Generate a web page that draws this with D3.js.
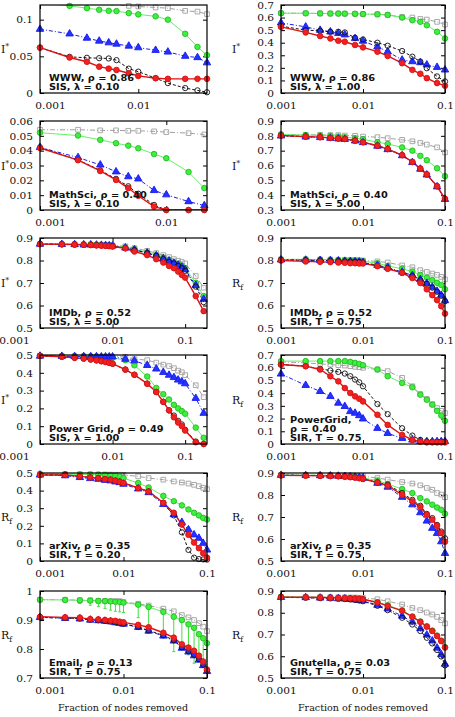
<!DOCTYPE html>
<html>
<head>
<meta charset="utf-8">
<script src="https://cdn.jsdelivr.net/npm/d3@7"></script>
<style>
  body { margin: 0; background: #fff; }
  text { fill: #111; }
</style>
</head>
<body>
<svg id="chart" width="455" height="717"></svg>
<script>
// x grids (fraction of nodes removed)
var g10 = [0.001, 0.002, 0.003, 0.004, 0.005, 0.006, 0.008, 0.01, 0.015, 0.02];
var g13 = [0.001, 0.002, 0.003, 0.004, 0.005, 0.006, 0.008, 0.01, 0.015, 0.02, 0.03, 0.04, 0.05];
var g16 = [0.001, 0.002, 0.003, 0.004, 0.005, 0.006, 0.008, 0.01, 0.015, 0.02, 0.03, 0.04, 0.05, 0.06, 0.08, 0.1];
var g20 = [0.001, 0.002, 0.003, 0.004, 0.005, 0.006, 0.007, 0.008, 0.009, 0.01, 0.015, 0.02, 0.03, 0.04, 0.05, 0.06, 0.07, 0.08, 0.09, 0.1];
var g22 = g20.concat([0.14, 0.18]);

// WWW, SIS lambda 0.10
var wwwA_gray  = [0.122, 0.1215, 0.121, 0.1205, 0.1202, 0.1202, 0.1188, 0.118, 0.1166, 0.1157, 0.112, 0.111, 0.1076];
var wwwA_green = [0.123, 0.1188, 0.1157, 0.1135, 0.1121, 0.1117, 0.109, 0.1072, 0.1045, 0.1, 0.0807, 0.0628, 0.0516];
var wwwA_blue  = [0.087, 0.0807, 0.0749, 0.0709, 0.0686, 0.0668, 0.0641, 0.0619, 0.0583, 0.056, 0.0502, 0.0484, 0.0413];
var wwwA_black = [0.0619, 0.0493, 0.048, 0.0475, 0.0471, 0.0448, 0.0332, 0.0291, 0.0202, 0.0135, 0.0067, 0.0036, 0.001];
var wwwA_red   = [0.0619, 0.0484, 0.0426, 0.0359, 0.0332, 0.0314, 0.0269, 0.0233, 0.0202, 0.0193, 0.0193, 0.0193, 0.0193];

// WWW, SIS lambda 1.00
var wwwB_gray  = [0.635, 0.634, 0.633, 0.632, 0.632, 0.631, 0.63, 0.628, 0.626, 0.621, 0.605, 0.6, 0.589, 0.584, 0.566, 0.545];
var wwwB_green = [0.635, 0.634, 0.633, 0.632, 0.632, 0.631, 0.63, 0.628, 0.626, 0.621, 0.6, 0.579, 0.566, 0.539, 0.487, 0.434];
var wwwB_blue  = [0.558, 0.526, 0.5, 0.487, 0.474, 0.463, 0.434, 0.413, 0.368, 0.329, 0.263, 0.25, 0.242, 0.224, 0.205, 0.184];
var wwwB_black = [0.532, 0.5, 0.495, 0.487, 0.487, 0.482, 0.439, 0.426, 0.4, 0.376, 0.334, 0.289, 0.25, 0.197, 0.132, 0.092];
var wwwB_red   = [0.526, 0.482, 0.453, 0.434, 0.416, 0.408, 0.382, 0.363, 0.329, 0.295, 0.237, 0.184, 0.153, 0.118, 0.079, 0.058];

// MathSci, SIS lambda 0.10
var msA_gray  = [0.0541, 0.0541, 0.0537, 0.0537, 0.0534, 0.0534, 0.053, 0.0525, 0.0518, 0.0509];
var msA_green = [0.0521, 0.0502, 0.0473, 0.045, 0.0434, 0.0416, 0.0377, 0.0349, 0.0256, 0.0148];
var msA_blue  = [0.0422, 0.0354, 0.0304, 0.0258, 0.0225, 0.021, 0.0132, 0.0103, 0.0057, 0.003];
var msA_black = [0.0422, 0.0338, 0.0267, 0.021, 0.016, 0.011, 0.0034, 0, 0, 0];
var msA_red   = [0.0418, 0.0336, 0.0263, 0.0203, 0.0148, 0.0096, 0.0023, 0, 0, 0];

// MathSci, SIS lambda 5.00
var msB_gray  = [0.809, 0.807, 0.807, 0.805, 0.805, 0.802, 0.8, 0.795, 0.791, 0.784, 0.773, 0.763, 0.752, 0.741, 0.722, 0.688];
var msB_green = [0.809, 0.805, 0.802, 0.8, 0.795, 0.791, 0.784, 0.777, 0.757, 0.745, 0.722, 0.7, 0.665, 0.636, 0.581, 0.528];
var msB_blue  = [0.8, 0.793, 0.789, 0.784, 0.78, 0.777, 0.766, 0.755, 0.731, 0.708, 0.667, 0.621, 0.576, 0.537, 0.457, 0.372];
var msB_black = [0.802, 0.795, 0.791, 0.786, 0.782, 0.779, 0.768, 0.757, 0.734, 0.711, 0.67, 0.624, 0.579, 0.54, 0.46, 0.375];
var msB_red   = [0.802, 0.795, 0.791, 0.786, 0.782, 0.779, 0.768, 0.757, 0.734, 0.711, 0.67, 0.624, 0.579, 0.54, 0.46, 0.375];

// IMDb, SIS lambda 5.00
var imA_gray  = [0.873, 0.872, 0.872, 0.871, 0.871, 0.87, 0.87, 0.869, 0.868, 0.867, 0.863, 0.855, 0.843, 0.833, 0.824, 0.815, 0.806, 0.799, 0.793, 0.787, 0.731, 0.679];
var imA_green = [0.873, 0.872, 0.872, 0.871, 0.871, 0.87, 0.869, 0.868, 0.867, 0.866, 0.859, 0.851, 0.836, 0.824, 0.813, 0.803, 0.791, 0.784, 0.776, 0.766, 0.701, 0.642];
var imA_blue  = [0.873, 0.872, 0.871, 0.87, 0.87, 0.869, 0.868, 0.867, 0.866, 0.865, 0.856, 0.848, 0.834, 0.822, 0.809, 0.798, 0.789, 0.78, 0.771, 0.76, 0.69, 0.628];
var imA_black = [0.873, 0.872, 0.871, 0.87, 0.869, 0.868, 0.867, 0.866, 0.865, 0.864, 0.855, 0.846, 0.833, 0.821, 0.806, 0.794, 0.787, 0.776, 0.766, 0.754, 0.684, 0.615];
var imA_red   = [0.873, 0.872, 0.871, 0.87, 0.869, 0.867, 0.866, 0.865, 0.864, 0.862, 0.854, 0.84, 0.824, 0.806, 0.791, 0.776, 0.766, 0.751, 0.736, 0.724, 0.642, 0.575];

// IMDb, SIR T 0.75
var imB_gray  = [0.805, 0.805, 0.804, 0.804, 0.803, 0.803, 0.802, 0.802, 0.801, 0.8, 0.796, 0.791, 0.778, 0.77, 0.757, 0.749, 0.742, 0.736, 0.727, 0.716];
var imB_green = [0.805, 0.805, 0.804, 0.803, 0.802, 0.801, 0.8, 0.799, 0.798, 0.797, 0.788, 0.776, 0.763, 0.751, 0.736, 0.724, 0.713, 0.701, 0.691, 0.672];
var imB_blue  = [0.803, 0.802, 0.801, 0.8, 0.799, 0.797, 0.796, 0.795, 0.794, 0.792, 0.779, 0.769, 0.749, 0.734, 0.716, 0.699, 0.682, 0.664, 0.646, 0.622];
var imB_black = [0.802, 0.801, 0.8, 0.799, 0.798, 0.796, 0.795, 0.794, 0.793, 0.791, 0.776, 0.766, 0.746, 0.731, 0.713, 0.696, 0.679, 0.661, 0.643, 0.619];
var imB_red   = [0.8, 0.796, 0.794, 0.793, 0.791, 0.79, 0.788, 0.788, 0.787, 0.787, 0.775, 0.763, 0.745, 0.722, 0.7, 0.672, 0.646, 0.624, 0.597, 0.564];

// Power Grid, SIS lambda 1.00
var pgA_gray  = [0.494, 0.494, 0.493, 0.493, 0.492, 0.492, 0.491, 0.491, 0.49, 0.49, 0.49, 0.477, 0.471, 0.457, 0.446, 0.438, 0.426, 0.412, 0.403, 0.387, 0.33, 0.263];
var pgA_green = [0.496, 0.495, 0.494, 0.493, 0.492, 0.49, 0.488, 0.486, 0.485, 0.484, 0.471, 0.442, 0.379, 0.315, 0.28, 0.25, 0.22, 0.2, 0.185, 0.17, 0.092, 0.035];
var pgA_blue  = [0.494, 0.493, 0.492, 0.492, 0.491, 0.491, 0.49, 0.49, 0.49, 0.49, 0.477, 0.468, 0.442, 0.422, 0.403, 0.387, 0.374, 0.36, 0.35, 0.339, 0.257, 0.173];
var pgA_black = [0.496, 0.49, 0.484, 0.48, 0.475, 0.47, 0.465, 0.461, 0.456, 0.451, 0.418, 0.389, 0.339, 0.292, 0.237, 0.189, 0.16, 0.13, 0.11, 0.08, 0.014, 0];
var pgA_red   = [0.496, 0.49, 0.484, 0.48, 0.475, 0.47, 0.465, 0.461, 0.456, 0.451, 0.418, 0.389, 0.339, 0.292, 0.237, 0.189, 0.15, 0.121, 0.101, 0.076, 0.01, 0];

// PowerGrid, SIR T 0.75
var pgB_gray  = [0.646, 0.638, 0.63, 0.625, 0.62, 0.617, 0.612, 0.607, 0.604, 0.599, 0.586, 0.573, 0.52, 0.454, 0.393, 0.354, 0.314, 0.282, 0.261, 0.243];
var pgB_green = [0.652, 0.652, 0.652, 0.652, 0.652, 0.652, 0.646, 0.638, 0.63, 0.62, 0.586, 0.533, 0.48, 0.446, 0.388, 0.348, 0.309, 0.261, 0.224, 0.182];
var pgB_blue  = [0.551, 0.462, 0.414, 0.375, 0.322, 0.296, 0.256, 0.243, 0.224, 0.198, 0.124, 0.084, 0.045, 0.032, 0.022, 0.02, 0.02, 0.02, 0.02, 0.02];
var pgB_black = [0.625, 0.612, 0.591, 0.578, 0.567, 0.554, 0.533, 0.507, 0.485, 0.454, 0.314, 0.235, 0.124, 0.066, 0.032, 0.02, 0.018, 0.018, 0.018, 0.018];
var pgB_red   = [0.625, 0.612, 0.586, 0.533, 0.493, 0.44, 0.401, 0.375, 0.356, 0.335, 0.23, 0.15, 0.071, 0.032, 0.018, 0.013, 0.013, 0.013, 0.013, 0.013];

// arXiv, SIR T 0.20
var axA_gray  = [0.494, 0.494, 0.493, 0.493, 0.492, 0.492, 0.491, 0.49, 0.49, 0.489, 0.481, 0.471, 0.462, 0.452, 0.446, 0.44, 0.433, 0.425, 0.416, 0.408];
var axA_green = [0.494, 0.493, 0.492, 0.491, 0.49, 0.488, 0.486, 0.483, 0.479, 0.471, 0.443, 0.418, 0.37, 0.34, 0.316, 0.293, 0.274, 0.259, 0.245, 0.236];
var axA_blue  = [0.489, 0.485, 0.475, 0.469, 0.465, 0.459, 0.456, 0.45, 0.446, 0.437, 0.41, 0.389, 0.322, 0.264, 0.22, 0.178, 0.149, 0.13, 0.101, 0.063];
var axA_black = [0.489, 0.489, 0.481, 0.475, 0.471, 0.465, 0.462, 0.456, 0.45, 0.443, 0.415, 0.395, 0.331, 0.259, 0.163, 0.063, 0.019, 0.011, 0.009, 0.008];
var axA_red   = [0.489, 0.489, 0.481, 0.475, 0.471, 0.465, 0.462, 0.456, 0.45, 0.443, 0.415, 0.395, 0.331, 0.274, 0.207, 0.149, 0.105, 0.073, 0.044, 0.019];

// arXiv, SIR T 0.75
var axB_gray  = [0.891, 0.891, 0.89, 0.89, 0.889, 0.889, 0.888, 0.887, 0.886, 0.885, 0.877, 0.87, 0.859, 0.852, 0.844, 0.832, 0.824, 0.809, 0.802, 0.79];
var axB_green = [0.891, 0.89, 0.889, 0.888, 0.887, 0.886, 0.884, 0.882, 0.88, 0.877, 0.866, 0.85, 0.827, 0.809, 0.786, 0.771, 0.756, 0.743, 0.733, 0.715];
var axB_blue  = [0.89, 0.889, 0.888, 0.887, 0.886, 0.885, 0.883, 0.881, 0.879, 0.877, 0.854, 0.836, 0.79, 0.756, 0.72, 0.682, 0.649, 0.626, 0.588, 0.535];
var axB_black = [0.89, 0.889, 0.888, 0.887, 0.886, 0.884, 0.882, 0.88, 0.877, 0.873, 0.857, 0.847, 0.809, 0.778, 0.751, 0.714, 0.695, 0.664, 0.634, 0.603];
var axB_red   = [0.889, 0.888, 0.887, 0.886, 0.885, 0.883, 0.881, 0.879, 0.876, 0.873, 0.857, 0.843, 0.801, 0.771, 0.745, 0.71, 0.688, 0.66, 0.627, 0.588];

// Email, SIR T 0.75 (green has lower error bars)
var emB_gray  = [0.97, 0.97, 0.968, 0.968, 0.966, 0.966, 0.965, 0.965, 0.965, 0.962, 0.956, 0.95, 0.939, 0.93, 0.917, 0.909, 0.9, 0.889, 0.877, 0.862];
var emB_green = [0.97, 0.969, 0.968, 0.967, 0.966, 0.965, 0.964, 0.963, 0.962, 0.96, 0.953, 0.945, 0.928, 0.911, 0.9, 0.885, 0.873, 0.851, 0.837, 0.82];
var emB_greenLow = [0.966, 0.962, 0.957, 0.951, 0.946, 0.94, 0.934, 0.93, 0.928, 0.926, 0.908, 0.865, 0.848, 0.791, 0.814, 0.78, 0.751, 0.763, 0.746, 0.723];
var emB_blue  = [0.909, 0.906, 0.904, 0.9, 0.898, 0.896, 0.894, 0.891, 0.889, 0.886, 0.875, 0.862, 0.845, 0.828, 0.803, 0.79, 0.777, 0.762, 0.743, 0.723];
var emB_black = [0.909, 0.907, 0.905, 0.901, 0.899, 0.897, 0.895, 0.892, 0.89, 0.887, 0.876, 0.864, 0.847, 0.83, 0.806, 0.793, 0.78, 0.765, 0.746, 0.726];
var emB_red   = [0.911, 0.909, 0.908, 0.903, 0.902, 0.9, 0.898, 0.897, 0.894, 0.892, 0.883, 0.875, 0.856, 0.839, 0.816, 0.805, 0.794, 0.777, 0.757, 0.729];

// Gnutella, SIR T 0.75
var gnB_gray  = [0.873, 0.873, 0.872, 0.872, 0.871, 0.871, 0.87, 0.87, 0.869, 0.868, 0.862, 0.853, 0.838, 0.822, 0.812, 0.801, 0.792, 0.781, 0.766, 0.751];
var gnB_green = [0.873, 0.872, 0.871, 0.87, 0.869, 0.868, 0.867, 0.866, 0.865, 0.862, 0.849, 0.834, 0.811, 0.783, 0.76, 0.738, 0.718, 0.695, 0.672, 0.642];
var gnB_blue  = [0.871, 0.87, 0.868, 0.867, 0.865, 0.864, 0.862, 0.86, 0.858, 0.856, 0.835, 0.818, 0.785, 0.758, 0.728, 0.698, 0.671, 0.638, 0.608, 0.564];
var gnB_black = [0.871, 0.869, 0.867, 0.866, 0.864, 0.863, 0.861, 0.859, 0.856, 0.853, 0.832, 0.812, 0.777, 0.746, 0.716, 0.685, 0.659, 0.629, 0.599, 0.558];
var gnB_red   = [0.872, 0.871, 0.87, 0.869, 0.868, 0.867, 0.866, 0.865, 0.864, 0.862, 0.847, 0.832, 0.809, 0.781, 0.758, 0.736, 0.716, 0.693, 0.67, 0.64];

var panels = [
  {col: 0, row: 0, x: g13, xMax: 0.05, y: [0, 0.12], yt: [0, 0.05, 0.1], lab: "I", txt: ["WWW, ρ = 0.86", "SIS, λ = 0.10"],
   s: [wwwA_gray, wwwA_green, wwwA_blue, wwwA_black, wwwA_red]},
  {col: 1, row: 0, x: g16, xMax: 0.1, y: [0, 0.7], yt: d3.range(0, 0.71, 0.1), lab: "I", txt: ["WWW, ρ = 0.86", "SIS, λ = 1.00"],
   s: [wwwB_gray, wwwB_green, wwwB_blue, wwwB_black, wwwB_red]},
  {col: 0, row: 1, x: g10, xMax: 0.021, y: [0, 0.06], yt: d3.range(0, 0.061, 0.01), lab: "I", txt: ["MathSci, ρ = 0.40", "SIS, λ = 0.10"],
   s: [msA_gray, msA_green, msA_blue, msA_black, msA_red]},
  {col: 1, row: 1, x: g16, xMax: 0.1, y: [0.3, 0.9], yt: d3.range(0.3, 0.91, 0.1), lab: "I", txt: ["MathSci, ρ = 0.40", "SIS, λ = 5.00"],
   s: [msB_gray, msB_green, msB_blue, msB_black, msB_red]},
  {col: 0, row: 2, x: g22, xMax: 0.2, y: [0.5, 0.9], yt: d3.range(0.5, 0.91, 0.1), lab: "I", txt: ["IMDb, ρ = 0.52", "SIS, λ = 5.00"],
   s: [imA_gray, imA_green, imA_blue, imA_black, imA_red], firstLabelDx: -26},
  {col: 1, row: 2, x: g20, xMax: 0.1, y: [0.5, 0.9], yt: d3.range(0.5, 0.91, 0.1), lab: "R", txt: ["IMDb, ρ = 0.52", "SIR, T = 0.75"],
   s: [imB_gray, imB_green, imB_blue, imB_black, imB_red]},
  {col: 0, row: 3, x: g22, xMax: 0.2, y: [0, 0.5], yt: d3.range(0, 0.51, 0.1), lab: "I", txt: ["Power Grid, ρ = 0.49", "SIS, λ = 1.00"],
   s: [pgA_gray, pgA_green, pgA_blue, pgA_black, pgA_red], firstLabelDx: -26},
  {col: 1, row: 3, x: g20, xMax: 0.1, y: [0, 0.7], yt: d3.range(0, 0.71, 0.1), lab: "R", txt: ["PowerGrid,", "ρ = 0.40", "SIR, T = 0.75"],
   s: [pgB_gray, pgB_green, pgB_blue, pgB_black, pgB_red]},
  {col: 0, row: 4, x: g20, xMax: 0.1, y: [0, 0.5], yt: d3.range(0, 0.51, 0.1), lab: "R", txt: ["arXiv, ρ = 0.35", "SIR, T = 0.20"],
   s: [axA_gray, axA_green, axA_blue, axA_black, axA_red]},
  {col: 1, row: 4, x: g20, xMax: 0.1, y: [0.5, 0.9], yt: d3.range(0.5, 0.91, 0.1), lab: "R", txt: ["arXiv, ρ = 0.35", "SIR, T = 0.75"],
   s: [axB_gray, axB_green, axB_blue, axB_black, axB_red]},
  {col: 0, row: 5, x: g20, xMax: 0.1, y: [0.7, 1.0], yt: d3.range(0.7, 1.01, 0.1), lab: "R", txt: ["Email, ρ = 0.13", "SIR, T = 0.75"],
   s: [emB_gray, emB_green, emB_blue, emB_black, emB_red], err: emB_greenLow},
  {col: 1, row: 5, x: g20, xMax: 0.1, y: [0.5, 0.9], yt: d3.range(0.5, 0.91, 0.1), lab: "R", txt: ["Gnutella, ρ = 0.03", "SIR, T = 0.75"],
   s: [gnB_gray, gnB_green, gnB_blue, gnB_black, gnB_red]}
];

// series styles, drawn in this order
var styles = [
  {stroke: "#a0a0a0", fill: "none", dash: "5,2,1,2", w: 1, sym: d3.symbolSquare, size: 22},
  {stroke: "#22bb22", fill: "#3ef03e", dash: null, w: 1, sym: d3.symbolCircle, size: 24, line: "#66ee66"},
  {stroke: "#1a1aee", fill: "#2233ff", dash: "4,2,1,2", w: 1, sym: d3.symbolTriangle, size: 24},
  {stroke: "#111", fill: "none", dash: "3,2", w: 1, sym: d3.symbolCircle, size: 22},
  {stroke: "#dd1111", fill: "#ee2222", dash: null, w: 1.4, sym: d3.symbolCircle, size: 25}
];

var colX = [[40, 207], [281, 445]];
var rowY = [[5, 93], [121, 210], [238, 328], [355, 444], [473, 561], [591, 678]];

var svg = d3.select("#chart");
var fmt = function(d) { return String(+d.toFixed(3)); };

// the original text is a little wider than these fonts, stretch it
function widen(sel, k) {
  sel.each(function() {
    var len = this.getComputedTextLength();
    d3.select(this).attr("textLength", len * k).attr("lengthAdjust", "spacingAndGlyphs");
  });
}

panels.forEach(function(p, i) {
  var x0 = colX[p.col][0], x1 = colX[p.col][1];
  var y0 = rowY[p.row][0], y1 = rowY[p.row][1];
  var x = d3.scaleLog().domain([0.001, p.xMax]).range([x0, x1]);
  var y = d3.scaleLinear().domain(p.y).range([y1, y0]);
  var g = svg.append("g");

  g.append("clipPath").attr("id", "clip" + i)
    .append("rect").attr("x", x0).attr("y", y0).attr("width", x1 - x0).attr("height", y1 - y0);

  var xt = [0.001, 0.01, 0.1].filter(function(v) { return v <= p.xMax * 1.001; });
  var ax = g.append("g").attr("transform", "translate(0," + y1 + ")")
    .call(d3.axisBottom(x).tickValues(xt).tickSize(-4).tickPadding(9).tickFormat(fmt));
  // in the left column the first label is pushed off its tick
  if (p.col === 0) {
    ax.selectAll(".tick text").filter(function(d) { return d === 0.001; })
      .attr("dx", p.firstLabelDx || 10);
  }
  g.append("g").attr("transform", "translate(0," + y0 + ")")
    .call(d3.axisTop(x).tickValues(xt).tickSize(-4).tickFormat(""));
  g.append("g").attr("transform", "translate(" + x0 + ",0)")
    .call(d3.axisLeft(y).tickValues(p.yt).tickSize(-4).tickPadding(7).tickFormat(fmt));
  g.append("g").attr("transform", "translate(" + x1 + ",0)")
    .call(d3.axisRight(y).tickValues(p.yt).tickSize(-4).tickFormat(""));
  g.selectAll(".domain").remove();
  g.selectAll(".tick line").attr("stroke", "#000");
  g.selectAll(".tick text").attr("font-family", "DejaVu Serif").attr("font-size", 10).attr("fill", "#222")
    .call(widen, 1.06);

  var plot = g.append("g");
  var lines = plot.append("g").attr("clip-path", "url(#clip" + i + ")");

  // error bars on green (Email panel)
  if (p.err) {
    var eg = plot.append("g").attr("stroke", "#44dd44").attr("stroke-width", 1);
    p.x.forEach(function(xv, k) {
      var top = y(p.s[1][k]), bot = y(Math.max(p.err[k], p.y[0]));
      eg.append("line").attr("x1", x(xv)).attr("x2", x(xv)).attr("y1", top).attr("y2", bot);
      eg.append("line").attr("x1", x(xv) - 1.5).attr("x2", x(xv) + 1.5).attr("y1", bot).attr("y2", bot);
    });
  }

  p.s.forEach(function(vals, si) {
    var st = styles[si];
    var pts = p.x.map(function(xv, k) { return [xv, vals[k]]; });
    var line = d3.line().x(function(d) { return x(d[0]); }).y(function(d) { return y(d[1]); });
    lines.append("path").datum(pts)
      .attr("fill", "none")
      .attr("stroke", st.line || st.stroke)
      .attr("stroke-width", st.w)
      .attr("stroke-dasharray", st.dash)
      .attr("d", line);
    var inRange = pts.filter(function(d) { return d[1] <= p.y[1] + 1e-9 && d[1] >= p.y[0] - 1e-9; });
    plot.selectAll(null).data(inRange).enter().append("path")
      .attr("transform", function(d) { return "translate(" + x(d[0]) + "," + y(d[1]) + ")"; })
      .attr("d", d3.symbol().type(st.sym).size(st.size))
      .attr("fill", st.fill)
      .attr("stroke", st.stroke)
      .attr("stroke-width", 0.9);
  });

  // frame
  g.append("rect").attr("x", x0).attr("y", y0).attr("width", x1 - x0).attr("height", y1 - y0)
    .attr("fill", "none").attr("stroke", "#000").attr("stroke-width", 1.2);

  // annotation
  var n = p.txt.length;
  var notes = g.selectAll(null).data(p.txt).enter().append("text")
    .attr("x", x0 + 9)
    .attr("y", function(t, k) { return y1 - 3 - (n - 1 - k) * 9; })
    .attr("font-family", "DejaVu Sans").attr("font-weight", "bold").attr("font-size", 9)
    .text(function(t) { return t; });
  notes.call(widen, 1.09);

  // y label
  var lx = p.col === 0 ? 1 : 232;
  var ly = (y0 + y1) / 2 + 4;
  var lt = g.append("text").attr("x", lx).attr("y", ly).attr("text-anchor", "start")
    .attr("font-family", "DejaVu Serif").attr("font-size", 11);
  if (p.lab === "I") {
    lt.append("tspan").text("I");
    lt.append("tspan").attr("dy", -4).attr("font-size", 8).text("*");
  } else {
    lt.append("tspan").text("R");
    lt.append("tspan").attr("dy", 3).attr("font-size", 7.5).text("f");
  }
});

// x axis titles
[123, 363].forEach(function(cx) {
  svg.append("text").attr("x", cx).attr("y", 711).attr("text-anchor", "middle")
    .attr("font-family", "DejaVu Serif").attr("font-size", 10)
    .attr("textLength", 130).attr("lengthAdjust", "spacingAndGlyphs")
    .text("Fraction of nodes removed");
});
</script>
</body>
</html>
